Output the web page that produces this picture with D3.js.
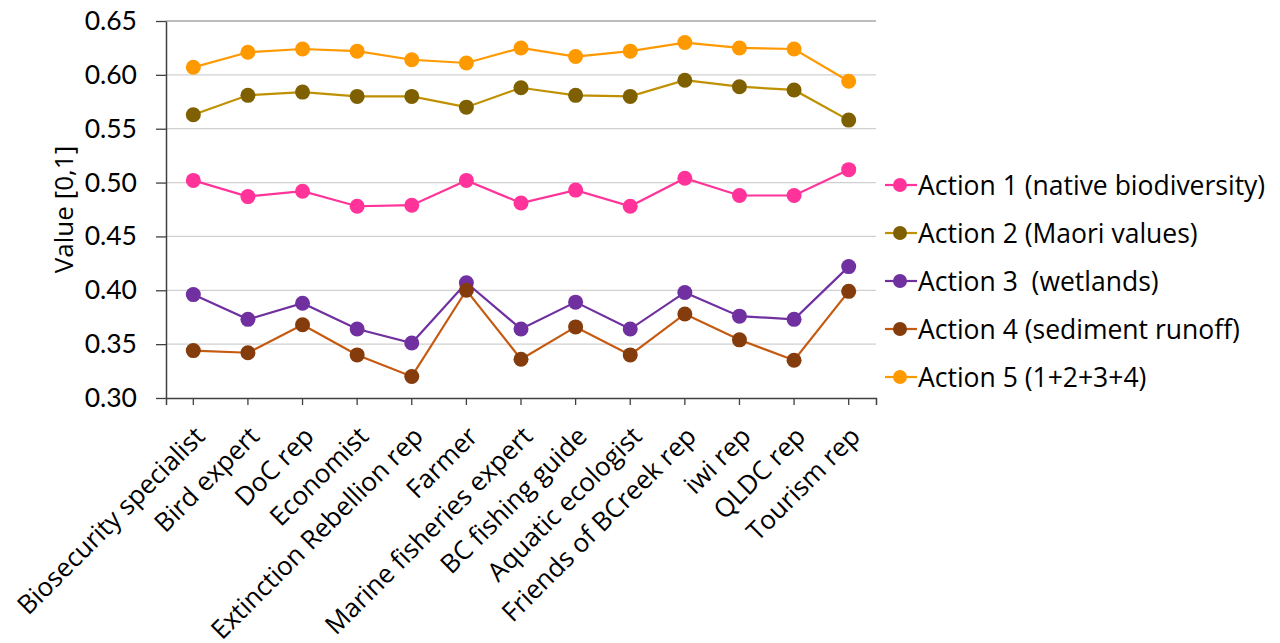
<!DOCTYPE html>
<html lang="en">
  <head>
    <meta charset="utf-8">
    <title>Action values by stakeholder</title>
    <script src="https://cdn.jsdelivr.net/npm/d3@7"></script>
    <style>
      body { margin: 0; background: #fff; }
      text { font-family: "Open Sans", Lato, sans-serif; fill: #000; }
    </style>
  </head>
  <body>
    <script>

    // Stakeholders (x categories)
    var categories = ["Biosecurity specialist", "Bird expert", "DoC rep", "Economist",
      "Extinction Rebellion rep", "Farmer", "Marine fisheries expert", "BC fishing guide",
      "Aquatic ecologist", "Friends of BCreek rep", "iwi rep", "QLDC rep", "Tourism rep"];

    var seriesNames = ["Action 1 (native biodiversity)", "Action 2 (Maori values)",
      "Action 3  (wetlands)", "Action 4 (sediment runoff)", "Action 5 (1+2+3+4)"];

    var action1 = [0.502, 0.487, 0.492, 0.478, 0.479, 0.502, 0.481, 0.493, 0.478, 0.504, 0.488, 0.488, 0.512];
    var action2 = [0.563, 0.581, 0.584, 0.580, 0.580, 0.570, 0.588, 0.581, 0.580, 0.595, 0.589, 0.586, 0.558];
    var action3 = [0.396, 0.373, 0.388, 0.364, 0.351, 0.407, 0.364, 0.389, 0.364, 0.398, 0.376, 0.373, 0.422];
    var action4 = [0.344, 0.342, 0.368, 0.340, 0.320, 0.400, 0.336, 0.366, 0.340, 0.378, 0.354, 0.335, 0.399];
    var action5 = [0.607, 0.621, 0.624, 0.622, 0.614, 0.611, 0.625, 0.617, 0.622, 0.630, 0.625, 0.624, 0.594];

    var yTicks = [0.30, 0.35, 0.40, 0.45, 0.50, 0.55, 0.60, 0.65];

    var lineColors = ["#ff3399", "#bf9000", "#7030a0", "#c55a11", "#ff9900"];
    var dotColors = ["#ff3399", "#7f6000", "#7030a0", "#843c0c", "#ff9900"];

    var allSeries = [action1, action2, action3, action4, action5];

    var w = 1280, h = 643;
    var plotLeft = 166, plotRight = 876, plotTop = 21, plotBottom = 398;

    var svg = d3.select("body").append("svg")
      .attr("width", w)
      .attr("height", h);

    var xScale = d3.scaleBand()
      .domain(categories)
      .range([plotLeft, plotRight]);

    var yScale = d3.scaleLinear()
      .domain([0.30, 0.65])
      .range([plotBottom, plotTop]);

    // gridlines
    svg.append("g")
      .selectAll("line")
      .data(yTicks.slice(1))
      .enter()
      .append("line")
      .attr("x1", plotLeft)
      .attr("x2", plotRight)
      .attr("y1", function(d) { return yScale(d); })
      .attr("y2", function(d) { return yScale(d); })
      .attr("stroke", function(d, i) { return i == yTicks.length - 2 ? "#a6a6a6" : "#d0d0d0"; })
      .attr("stroke-width", 1.3);

    // y axis
    var yAxis = d3.axisLeft(yScale)
      .tickValues(yTicks)
      .tickFormat(d3.format(".2f"))
      .tickSize(10)
      .tickSizeOuter(0)
      .tickPadding(19);

    var gy = svg.append("g")
      .attr("transform", "translate(" + plotLeft + ",0)")
      .call(yAxis);
    gy.select(".domain").attr("stroke", "#404040").attr("stroke-width", 1.5);
    gy.selectAll(".tick line").attr("stroke", "#404040").attr("stroke-width", 1.3);
    gy.selectAll(".tick text")
      .attr("font-size", "26.5px")
      .style("font-family", "Lato, sans-serif");

    // x axis
    var xAxis = d3.axisBottom(xScale)
      .tickSize(7)
      .tickSizeOuter(7)
      .tickFormat("");

    var gx = svg.append("g")
      .attr("transform", "translate(0," + plotBottom + ")")
      .call(xAxis);
    gx.select(".domain").attr("stroke", "#404040").attr("stroke-width", 1.5);
    gx.selectAll(".tick line").attr("stroke", "#404040").attr("stroke-width", 1.3);

    // rotated category labels
    svg.append("g")
      .selectAll("text")
      .data(categories)
      .enter()
      .append("text")
      .attr("text-anchor", "end")
      .attr("font-size", "26px")
      .attr("transform", function(d) {
        var x = xScale(d) + xScale.bandwidth() / 2 + 13;
        return "translate(" + x + "," + (plotBottom + 40) + ") rotate(-45)";
      })
      .text(function(d) { return d; });

    // y axis title
    svg.append("text")
      .attr("text-anchor", "middle")
      .attr("font-size", "26px")
      .attr("transform", "translate(73," + ((plotTop + plotBottom) / 2) + ") rotate(-90)")
      .text("Value [0,1]");

    // lines and dots
    var line = d3.line()
      .x(function(d, i) { return xScale(categories[i]) + xScale.bandwidth() / 2; })
      .y(function(d) { return yScale(d); });

    allSeries.forEach(function(s, k) {
      svg.append("path")
        .datum(s)
        .attr("d", line)
        .attr("fill", "none")
        .attr("stroke", lineColors[k])
        .attr("stroke-width", 2.2);

      svg.append("g")
        .selectAll("circle")
        .data(s)
        .enter()
        .append("circle")
        .attr("cx", function(d, i) { return xScale(categories[i]) + xScale.bandwidth() / 2; })
        .attr("cy", function(d) { return yScale(d); })
        .attr("r", 7.5)
        .attr("fill", dotColors[k]);
    });

    // legend
    var legend = svg.append("g")
      .attr("transform", "translate(886,185)");

    var items = legend.selectAll("g")
      .data(seriesNames)
      .enter()
      .append("g")
      .attr("transform", function(d, i) { return "translate(0," + (i * 48) + ")"; });

    items.append("line")
      .attr("x1", -1).attr("x2", 31)
      .attr("stroke", function(d, i) { return lineColors[i]; })
      .attr("stroke-width", 2.2);

    items.append("circle")
      .attr("cx", 14)
      .attr("r", 7)
      .attr("fill", function(d, i) { return dotColors[i]; });

    items.append("text")
      .attr("x", 32)
      .attr("dy", "0.36em")
      .attr("font-size", "26.5px")
      .style("white-space", "pre")
      .text(function(d) { return d; });

    </script>
  </body>
</html>
